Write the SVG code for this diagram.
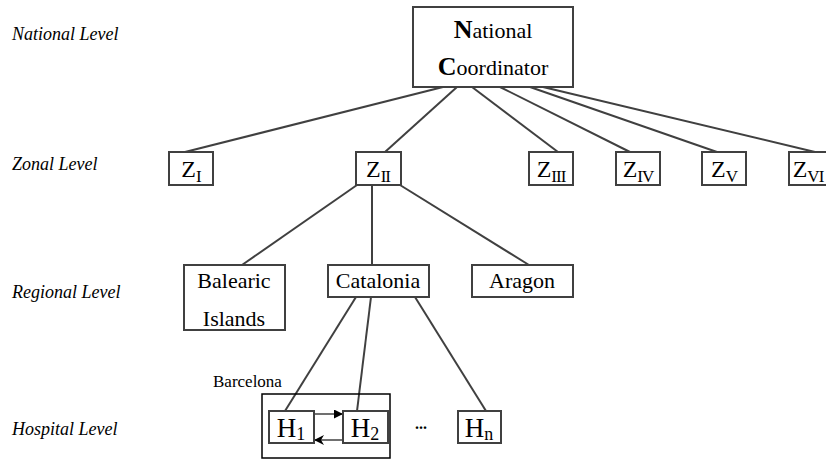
<svg xmlns="http://www.w3.org/2000/svg" width="826" height="459" viewBox="0 0 826 459">
<defs>
<style>
.box{fill:#fff;stroke:#404040;stroke-width:2}
.conn line{stroke:#404040;stroke-width:2}
.t{font-family:'Liberation Serif','DejaVu Serif',serif;fill:#000}
.lvl{font-family:'Liberation Serif','DejaVu Serif',serif;font-style:italic;font-size:18px;fill:#000}
.z{font-size:24px}
.zs{font-size:17px;letter-spacing:-1px}
.r{font-size:22px}
.h{font-size:27px}
.hs{font-size:18px}
</style>
<marker id="tri" viewBox="0 0 10 10" refX="10" refY="5" markerWidth="9" markerHeight="9" markerUnits="userSpaceOnUse" orient="auto">
<path d="M0,0 L10,5 L0,10 Z" fill="#000"/>
</marker>
<marker id="stealth" viewBox="0 0 10 10" refX="10" refY="5" markerWidth="10" markerHeight="10" markerUnits="userSpaceOnUse" orient="auto">
<path d="M0,0 L10,5 L0,10 L3,5 Z" fill="#000"/>
</marker>
</defs>
<rect width="826" height="459" fill="#fff"/>
<g id="levels">
<text class="lvl" x="12" y="40" font-family="Liberation Serif, serif">National Level</text>
<text class="lvl" x="12" y="170" font-family="Liberation Serif, serif">Zonal Level</text>
<text class="lvl" x="12" y="298" font-family="Liberation Serif, serif">Regional Level</text>
<text class="lvl" x="12" y="435" font-family="Liberation Serif, serif">Hospital Level</text>
</g>
<g id="connectors" class="conn">
<line x1="443" y1="87" x2="185" y2="152"/>
<line x1="457" y1="87" x2="385" y2="152"/>
<line x1="472" y1="87" x2="558" y2="152"/>
<line x1="500" y1="87" x2="630" y2="152"/>
<line x1="530" y1="87" x2="717" y2="152"/>
<line x1="543" y1="87" x2="815" y2="152"/>
<line x1="357" y1="185" x2="242" y2="265"/>
<line x1="372" y1="185" x2="372" y2="265"/>
<line x1="400" y1="185" x2="529" y2="265"/>
<line x1="356" y1="297" x2="285" y2="411"/>
<line x1="371" y1="297" x2="357" y2="411"/>
<line x1="415" y1="297" x2="486" y2="411"/>
<line x1="314" y1="414" x2="343" y2="414" style="stroke-width:1.5" marker-end="url(#tri)"/>
<line x1="343" y1="440" x2="314" y2="440" style="stroke-width:1.5" marker-end="url(#stealth)"/>
</g>
<g id="national">
<rect class="box" x="413" y="7" width="160" height="80"/>
<text class="t" x="493" y="38" text-anchor="middle" font-size="22"><tspan font-weight="bold" font-size="26">N</tspan>ational</text>
<text class="t" x="493" y="75" text-anchor="middle" font-size="22"><tspan font-weight="bold" font-size="26">C</tspan>oordinator</text>
</g>
<g id="z1">
<rect class="box" x="169" y="152" width="44" height="33"/>
<text class="t z" x="191" y="177" text-anchor="middle">Z<tspan class="zs" dy="5">I</tspan></text>
</g>
<g id="z2">
<rect class="box" x="356" y="152" width="45" height="33"/>
<text class="t z" x="378" y="177" text-anchor="middle">Z<tspan class="zs" dy="5">II</tspan></text>
</g>
<g id="z3">
<rect class="box" x="529" y="152" width="44" height="33"/>
<text class="t z" x="551" y="177" text-anchor="middle">Z<tspan class="zs" dy="5">III</tspan></text>
</g>
<g id="z4">
<rect class="box" x="616" y="152" width="44" height="33"/>
<text class="t z" x="638" y="177" text-anchor="middle">Z<tspan class="zs" dy="5">IV</tspan></text>
</g>
<g id="z5">
<rect class="box" x="702" y="152" width="44" height="33"/>
<text class="t z" x="724" y="177" text-anchor="middle">Z<tspan class="zs" dy="5">V</tspan></text>
</g>
<g id="z6">
<rect class="box" x="789" y="152" width="44" height="33"/>
<text class="t z" x="808" y="177" text-anchor="middle">Z<tspan class="zs" dy="5">VI</tspan></text>
</g>
<g id="balearic">
<rect class="box" x="184" y="265" width="101" height="65"/>
<text class="t r" x="234" y="288" text-anchor="middle">Balearic</text>
<text class="t r" x="234" y="326" text-anchor="middle">Islands</text>
</g>
<g id="catalonia">
<rect class="box" x="328" y="265" width="101" height="32"/>
<text class="t r" x="378" y="288" text-anchor="middle">Catalonia</text>
</g>
<g id="aragon">
<rect class="box" x="472" y="265" width="101" height="32"/>
<text class="t r" x="522" y="288" text-anchor="middle">Aragon</text>
</g>
<g id="barcelona">
<rect x="262" y="394" width="128" height="64" fill="none" stroke="#000" stroke-width="1.5"/>
<text class="t" x="213" y="387" font-size="17">Barcelona</text>
</g>
<g id="h1">
<rect class="box" x="269" y="411" width="45" height="32"/>
<text class="t h" x="291" y="437" text-anchor="middle">H<tspan class="hs" dy="3">1</tspan></text>
</g>
<g id="h2">
<rect class="box" x="343" y="411" width="45" height="32"/>
<text class="t h" x="365" y="437" text-anchor="middle">H<tspan class="hs" dy="3">2</tspan></text>
</g>
<g id="dots">
<text class="t" x="421" y="429" text-anchor="middle" font-size="16" font-weight="bold">...</text>
</g>
<g id="hn">
<rect class="box" x="458" y="411" width="43" height="32"/>
<text class="t h" x="479" y="437" text-anchor="middle">H<tspan class="hs" dy="3">n</tspan></text>
</g>
</svg>
